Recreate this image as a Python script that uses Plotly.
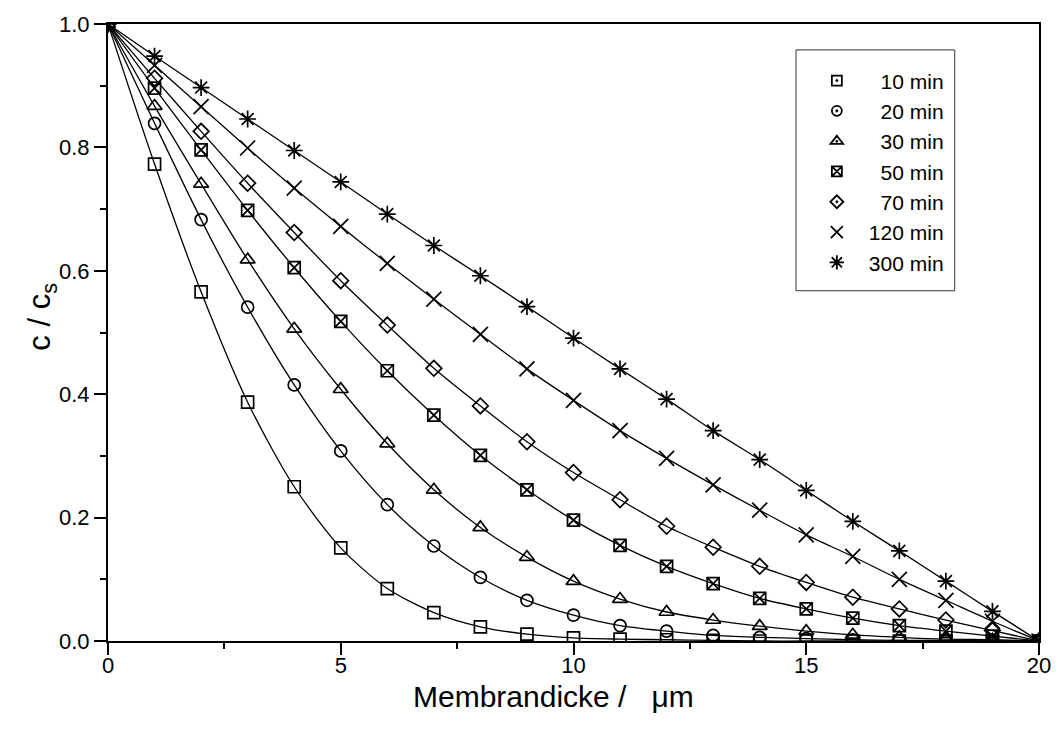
import plotly.graph_objects as go

# ---------------- data ----------------
thickness = list(range(0, 21))  # Membrandicke / µm

series_names = ["10 min", "20 min", "30 min", "50 min", "70 min", "120 min", "300 min"]

c_10 = [1.0, 0.773, 0.566, 0.387, 0.250, 0.151, 0.085, 0.046, 0.023, 0.011, 0.005,
        0.003, 0.002, 0.001, 0.0, 0.0, 0.0, 0.0, 0.0, 0.0, 0.0]
c_20 = [1.0, 0.839, 0.683, 0.541, 0.415, 0.308, 0.221, 0.154, 0.103, 0.066, 0.042,
        0.025, 0.016, 0.009, 0.006, 0.004, 0.002, 0.001, 0.001, 0.0, 0.0]
c_30 = [1.0, 0.867, 0.741, 0.618, 0.506, 0.408, 0.320, 0.245, 0.184, 0.136, 0.097,
        0.068, 0.047, 0.034, 0.024, 0.016, 0.010, 0.006, 0.003, 0.002, 0.0]
c_50 = [1.0, 0.896, 0.796, 0.698, 0.605, 0.518, 0.438, 0.366, 0.301, 0.245, 0.196,
        0.155, 0.121, 0.093, 0.069, 0.052, 0.037, 0.025, 0.016, 0.008, 0.0]
c_70 = [1.0, 0.912, 0.826, 0.742, 0.662, 0.584, 0.512, 0.442, 0.381, 0.323, 0.273,
        0.229, 0.186, 0.152, 0.121, 0.095, 0.071, 0.052, 0.034, 0.017, 0.0]
c_120 = [1.0, 0.933, 0.866, 0.799, 0.734, 0.672, 0.612, 0.554, 0.497, 0.441, 0.390,
         0.341, 0.296, 0.253, 0.212, 0.172, 0.137, 0.100, 0.066, 0.032, 0.0]
c_300 = [1.0, 0.948, 0.897, 0.846, 0.795, 0.744, 0.692, 0.641, 0.592, 0.542, 0.491,
         0.441, 0.392, 0.341, 0.294, 0.244, 0.194, 0.146, 0.097, 0.048, 0.0]

series_values = [c_10, c_20, c_30, c_50, c_70, c_120, c_300]

x_tick_vals = [0, 5, 10, 15, 20]
y_tick_vals = [0.0, 0.2, 0.4, 0.6, 0.8, 1.0]
y_tick_text = ["0.0", "0.2", "0.4", "0.6", "0.8", "1.0"]

x_title = "Membrandicke /\u00a0\u00a0\u00a0\u03bcm"
y_title = "c / c<sub>s</sub>"

# ---------------- styles ----------------
plot_symbols = ["square-open", "circle-open", "triangle-up-open", "square-x-open",
                "diamond-open", "x-thin-open", "asterisk-open"]
legend_symbols = ["square-open-dot", "circle-open-dot", "triangle-up-open-dot", "square-x-open",
                  "diamond-open-dot", "x-thin-open", "asterisk-open"]
plot_sizes = [12, 12, 13, 12, 12, 15, 14]
legend_sizes = [10, 10, 11, 10, 10, 12, 12]
legend_labels = ["\u2007" + n if len(n) == 6 else n for n in series_names]

fig = go.Figure()

for name, vals, sym, sz in zip(series_names, series_values, plot_symbols, plot_sizes):
    fig.add_trace(go.Scatter(
        x=thickness, y=vals, mode="lines+markers", name=name, showlegend=False,
        line=dict(color="black", width=1.3, shape="spline", smoothing=0.8),
        marker=dict(symbol=sym, size=sz, color="black", line=dict(color="black", width=1.7)),
        cliponaxis=True,
    ))

for i, (lab, sym, sz) in enumerate(zip(legend_labels, legend_symbols, legend_sizes)):
    fig.add_trace(go.Scatter(
        x=[None], y=[None], mode="markers", name=lab, legendgroup=f"g{i}",
        marker=dict(symbol=sym, size=sz, color="black", line=dict(color="black", width=1.8)),
    ))

font_family = "Liberation Sans, Arial, sans-serif"

fig.update_layout(
    width=1063, height=729,
    margin=dict(l=108, r=16, t=21, b=88),
    paper_bgcolor="white", plot_bgcolor="white",
    font=dict(family=font_family, color="black"),
    showlegend=True,
    legend=dict(
        x=0.7485, y=0.941, xanchor="left", yanchor="top",
        bgcolor="rgba(0,0,0,0)", borderwidth=0,
        font=dict(size=21, family=font_family, color="black"),
        traceorder="grouped", tracegroupgap=0, itemsizing="trace", itemwidth=54,
    ),
    xaxis=dict(
        range=[0, 20], tickmode="array", tickvals=x_tick_vals,
        ticks="outside", ticklen=12, tickwidth=2, tickcolor="black",
        showline=True, linecolor="black", linewidth=2, mirror=True,
        showgrid=False, zeroline=False,
        tickfont=dict(size=22, family=font_family),
        ticklabelstandoff=-8,
        minor=dict(dtick=2.5, ticks="outside", ticklen=6, tickwidth=2, tickcolor="black", showgrid=False),
    ),
    yaxis=dict(
        range=[0, 1.0], tickmode="array", tickvals=y_tick_vals, ticktext=y_tick_text,
        ticks="outside", ticklen=12, tickwidth=2, tickcolor="black",
        showline=True, linecolor="black", linewidth=2, mirror=True,
        showgrid=False, zeroline=False,
        tickfont=dict(size=22, family=font_family),
        minor=dict(dtick=0.1, ticks="outside", ticklen=6, tickwidth=2, tickcolor="black", showgrid=False),
    ),
    shapes=[dict(type="rect", xref="paper", yref="paper",
                 x0=0.739, x1=0.9095, y0=0.5677, y1=0.958,
                 line=dict(color="#333333", width=1), fillcolor="rgba(0,0,0,0)")],
    annotations=[
        dict(text=x_title, xref="paper", yref="paper", x=0.478, y=-0.0903,
             xanchor="center", yanchor="middle", showarrow=False,
             font=dict(size=30, family=font_family, color="black")),
        dict(text=y_title, xref="paper", yref="paper", x=-0.0703, y=0.525,
             xanchor="center", yanchor="middle", showarrow=False, textangle=-90,
             font=dict(size=31, family=font_family, color="black")),
    ],
)

fig.write_html("out.html")
